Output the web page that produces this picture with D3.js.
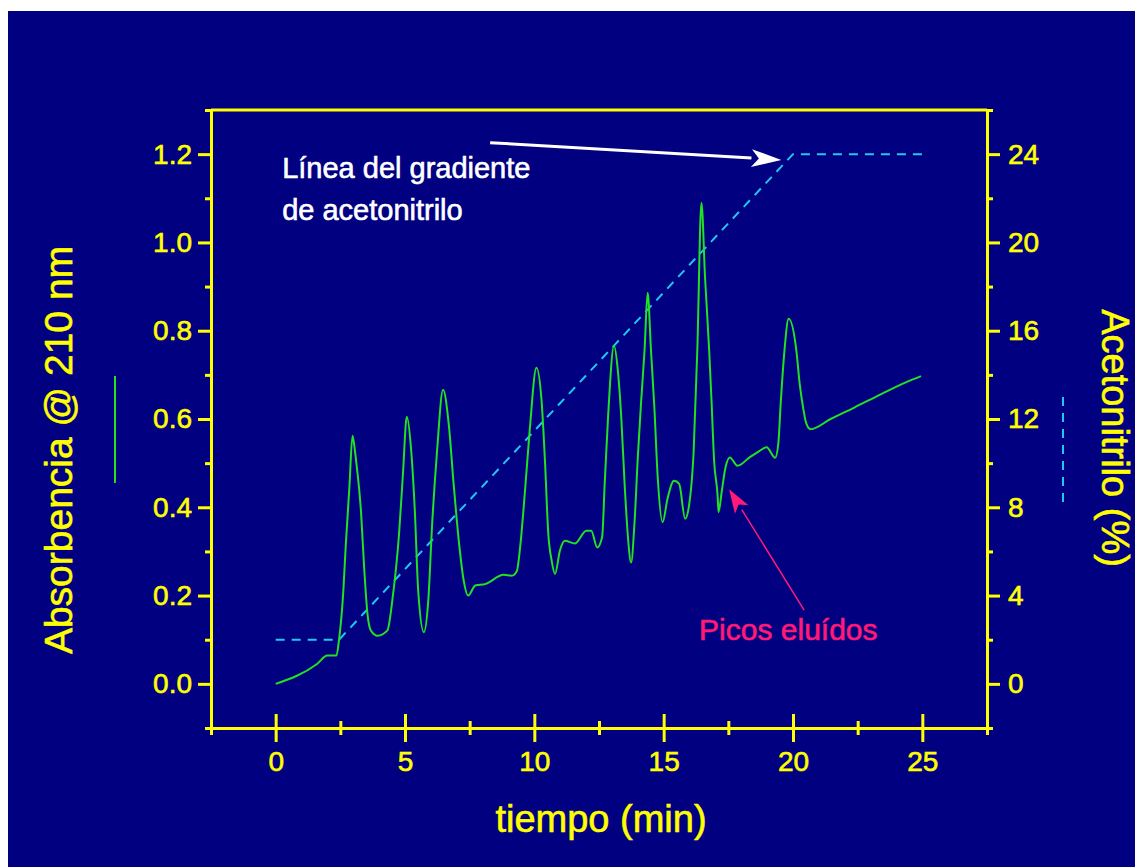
<!DOCTYPE html>
<html>
<head>
<meta charset="utf-8">
<script src="https://cdn.jsdelivr.net/npm/d3@7"></script>
<style>
  body { margin: 0; background: #fff; }
  text { font-family: "Liberation Sans", Arial, sans-serif; }
</style>
</head>
<body>
<div id="chart"></div>
<script>
(function() {
  "use strict";

  // chromatogram (min, absorbance)
  var timeMin = [0, 1.6, 2.0, 2.35, 2.45, 2.6, 2.72, 2.85, 2.97, 3.05, 3.12, 3.3, 3.42, 3.55, 3.68, 3.94,
    4.32, 4.51, 4.77, 4.92, 5.07, 5.24, 5.38, 5.51, 5.73, 5.9, 6.05, 6.24, 6.47, 6.69, 6.88, 7.08,
    7.27, 7.44, 7.72, 8.1, 8.81, 9.13, 9.32, 9.45, 9.64, 9.83, 10.08, 10.28, 10.41, 10.54, 10.67,
    10.8, 10.99, 11.18, 11.57, 12.01, 12.2, 12.43, 12.62, 12.72, 12.85, 13.08, 13.23, 13.36, 13.49,
    13.62, 13.74, 13.87, 14.0, 14.13, 14.26, 14.38, 14.51, 14.64, 14.77, 14.96, 15.15, 15.4, 15.6,
    15.83, 15.97, 16.16, 16.3, 16.46, 16.6, 16.76, 16.85, 16.95, 17.09, 17.12, 17.25, 17.39, 17.56,
    17.85, 18.32, 18.71, 18.98, 19.31, 19.43, 19.53, 19.67, 19.83, 20.13, 20.26, 20.39, 20.52,
    20.68, 21.45, 22.37, 23.43, 24.36, 24.95];
  var absorbance = [0, 0.045, 0.064, 0.064, 0.1, 0.196, 0.324, 0.445, 0.562, 0.535, 0.5, 0.389, 0.264,
    0.158, 0.121, 0.109, 0.121, 0.189, 0.34, 0.475, 0.605, 0.528, 0.392, 0.211, 0.117, 0.189, 0.362,
    0.528, 0.666, 0.589, 0.453, 0.324, 0.234, 0.2, 0.223, 0.226, 0.247, 0.245, 0.255, 0.309, 0.438,
    0.581, 0.716, 0.641, 0.506, 0.34, 0.279, 0.249, 0.302, 0.324, 0.318, 0.347, 0.347, 0.309, 0.332,
    0.453, 0.604, 0.766, 0.709, 0.604, 0.453, 0.332, 0.275, 0.362, 0.513, 0.641, 0.755, 0.886, 0.755,
    0.626, 0.468, 0.366, 0.42, 0.46, 0.453, 0.374, 0.4, 0.528, 0.755, 1.09, 0.92, 0.755, 0.641, 0.506,
    0.422, 0.389, 0.438, 0.49, 0.513, 0.494, 0.513, 0.528, 0.536, 0.512, 0.543, 0.641, 0.755, 0.827,
    0.755, 0.679, 0.626, 0.589, 0.577, 0.6, 0.626, 0.657, 0.683, 0.697];

  // acetonitrile gradient (min, %)
  var gradTime = [0, 2.45, 20, 25];
  var gradPct = [2, 2, 24, 24];

  var timeTicks = [0, 5, 10, 15, 20, 25];
  var timeMinor = [-2.5, 2.5, 7.5, 12.5, 17.5, 22.5, 27.5];
  var absTicks = [0, 0.2, 0.4, 0.6, 0.8, 1.0, 1.2];
  var absMinor = [-0.1, 0.1, 0.3, 0.5, 0.7, 0.9, 1.1, 1.3];
  var pctTicks = [0, 4, 8, 12, 16, 20, 24];
  var pctMinor = [-2, 2, 6, 10, 14, 18, 22, 26];

  var navy = "#000080";
  var yellow = "#ffff00";
  var green = "#22e022";
  var cyan = "#1ec8ee";
  var pink = "#ff1a78";

  var svg = d3.select("#chart")
    .append("svg")
    .attr("width", 1135)
    .attr("height", 867);

  svg.append("rect")
    .attr("x", 8)
    .attr("y", 11)
    .attr("width", 1127)
    .attr("height", 856)
    .attr("fill", navy);

  var x = d3.scaleLinear().domain([-2.5, 27.5]).range([211, 987]);
  var yLeft = d3.scaleLinear().domain([-0.1, 1.3]).range([728, 110]);
  var yRight = d3.scaleLinear().domain([-2, 26]).range([728, 110]);

  // the original bitmap text is a bit heavier than a plain outline font
  function heavy(sel, color) {
    sel.attr("fill", color)
      .attr("stroke", color)
      .attr("stroke-width", 0.6);
  }

  function styleAxis(g) {
    g.selectAll("path, line")
      .attr("stroke", yellow)
      .attr("stroke-width", 3);
    g.selectAll("text")
      .attr("font-size", 28)
      .attr("font-family", "'Liberation Sans', Arial, sans-serif")
      .call(heavy, yellow);
  }

  /* ------- AXES -------*/

  // top line of the frame
  svg.append("line")
    .attr("x1", x(-2.5))
    .attr("x2", x(27.5))
    .attr("y1", yLeft(1.3))
    .attr("y2", yLeft(1.3))
    .attr("stroke", yellow)
    .attr("stroke-width", 3);

  svg.append("g")
    .attr("transform", "translate(" + x(-2.5) + ",0)")
    .call(d3.axisLeft(yLeft).tickValues(absMinor).tickSize(6).tickSizeOuter(0).tickFormat(""))
    .call(styleAxis);

  svg.append("g")
    .attr("transform", "translate(" + x(-2.5) + ",0)")
    .call(d3.axisLeft(yLeft).tickValues(absTicks).tickSize(13).tickSizeOuter(0)
      .tickPadding(6).tickFormat(d3.format(".1f")))
    .call(styleAxis)
    .call(function(g) { g.select(".domain").remove(); });

  svg.append("g")
    .attr("transform", "translate(" + x(27.5) + ",0)")
    .call(d3.axisRight(yRight).tickValues(pctMinor).tickSize(6).tickSizeOuter(0).tickFormat(""))
    .call(styleAxis);

  svg.append("g")
    .attr("transform", "translate(" + x(27.5) + ",0)")
    .call(d3.axisRight(yRight).tickValues(pctTicks).tickSize(13).tickSizeOuter(0).tickPadding(8))
    .call(styleAxis)
    .call(function(g) { g.select(".domain").remove(); });

  // x ticks cross the axis line
  svg.append("g")
    .attr("transform", "translate(0," + yLeft(-0.1) + ")")
    .call(d3.axisBottom(x).tickValues(timeMinor).tickSize(7).tickSizeOuter(0).tickFormat(""))
    .call(styleAxis)
    .call(function(g) { g.selectAll(".tick line").attr("y1", -7); });

  svg.append("g")
    .attr("transform", "translate(0," + yLeft(-0.1) + ")")
    .call(d3.axisBottom(x).tickValues(timeTicks).tickSize(14).tickSizeOuter(0).tickPadding(9))
    .call(styleAxis)
    .call(function(g) {
      g.select(".domain").remove();
      g.selectAll(".tick line").attr("y1", -14);
    });

  /* ------- AXIS TITLES -------*/

  svg.append("text")
    .attr("x", 601)
    .attr("y", 832)
    .attr("text-anchor", "middle")
    .attr("font-size", 38)
    .call(heavy, yellow)
    .text("tiempo (min)");

  svg.append("text")
    .attr("transform", "translate(72,450) rotate(-90)")
    .attr("text-anchor", "middle")
    .attr("font-size", 39)
    .call(heavy, yellow)
    .text("Absorbencia @ 210 nm");

  svg.append("text")
    .attr("transform", "translate(1102,438) rotate(90)")
    .attr("text-anchor", "middle")
    .attr("font-size", 38)
    .call(heavy, yellow)
    .text("Acetonitrilo (%)");

  // line samples next to the titles
  svg.append("line")
    .attr("x1", 115).attr("x2", 115)
    .attr("y1", 376).attr("y2", 483)
    .attr("stroke", green)
    .attr("stroke-width", 2);

  svg.append("line")
    .attr("x1", 1063).attr("x2", 1063)
    .attr("y1", 397).attr("y2", 503)
    .attr("stroke", cyan)
    .attr("stroke-width", 2)
    .attr("stroke-dasharray", "9,7");

  /* ------- SERIES -------*/

  var gradLine = d3.line()
    .x(function(d, i) { return x(gradTime[i]); })
    .y(function(d) { return yRight(d); });

  svg.append("path")
    .datum(gradPct)
    .attr("fill", "none")
    .attr("stroke", cyan)
    .attr("stroke-width", 2)
    .attr("stroke-dasharray", "9,7")
    .attr("d", gradLine);

  var absLine = d3.line()
    .x(function(d, i) { return x(timeMin[i]); })
    .y(function(d) { return yLeft(d); })
    .curve(d3.curveMonotoneX);

  svg.append("path")
    .datum(absorbance)
    .attr("fill", "none")
    .attr("stroke", green)
    .attr("stroke-width", 2)
    .attr("stroke-linejoin", "round")
    .attr("d", absLine);

  /* ------- ANNOTATIONS -------*/

  function arrow(from, to, color, width, headLen, headHalf) {
    var x0 = x(from[0]), y0 = yLeft(from[1]);
    var x1 = x(to[0]), y1 = yLeft(to[1]);
    var ang = Math.atan2(y1 - y0, x1 - x0);
    var bx = x1 - headLen * Math.cos(ang);
    var by = y1 - headLen * Math.sin(ang);
    var nx = -Math.sin(ang) * headHalf;
    var ny = Math.cos(ang) * headHalf;
    var nx2 = x1 - headLen * 0.75 * Math.cos(ang);
    var ny2 = y1 - headLen * 0.75 * Math.sin(ang);

    svg.append("line")
      .attr("x1", x0).attr("y1", y0)
      .attr("x2", bx).attr("y2", by)
      .attr("stroke", color)
      .attr("stroke-width", width);

    svg.append("path")
      .attr("d", "M" + x1 + "," + y1 +
        "L" + (bx + nx) + "," + (by + ny) +
        "L" + nx2 + "," + ny2 +
        "L" + (bx - nx) + "," + (by - ny) + "Z")
      .attr("fill", color);
  }

  svg.append("text")
    .attr("x", x(0.25))
    .attr("y", yLeft(1.145))
    .attr("font-size", 29)
    .call(heavy, "#fff")
    .text("Línea del gradiente");

  svg.append("text")
    .attr("x", x(0.25))
    .attr("y", yLeft(1.051))
    .attr("font-size", 29)
    .call(heavy, "#fff")
    .text("de acetonitrilo");

  arrow([8.29, 1.226], [19.55, 1.187], "#fff", 3, 30, 9);

  svg.append("text")
    .attr("x", x(16.37))
    .attr("y", yLeft(0.099))
    .attr("font-size", 30)
    .call(heavy, pink)
    .text("Picos eluídos");

  arrow([20.43, 0.167], [17.53, 0.441], pink, 1.5, 24, 8);
})();
</script>
</body>
</html>
